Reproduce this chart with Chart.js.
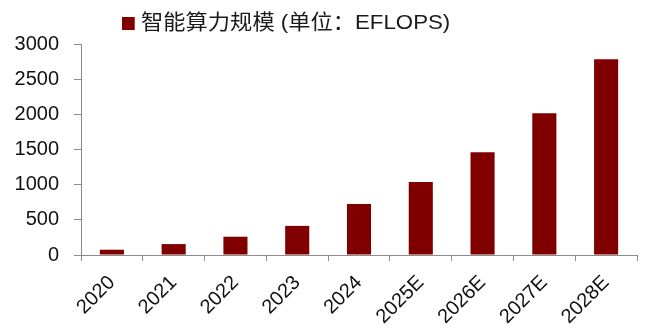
<!DOCTYPE html>
<html>
<head>
<meta charset="utf-8">
<script src="https://cdn.jsdelivr.net/npm/chart.js@4/dist/chart.umd.min.js"></script>
<style>
  html, body { margin: 0; padding: 0; background: #fff; }
  #wrap { position: relative; width: 645px; height: 333px; }
  #legend {
    position: absolute; left: 122px; top: 5px;
    font: 21px "Liberation Sans", "Noto Sans CJK SC", sans-serif;
    color: #1a1a1a; white-space: nowrap;
    transform: scaleX(1.06); transform-origin: left center;
  }
  #legend .box {
    display: inline-block; width: 12px; height: 13px;
    background: #800000; margin-right: 6px; vertical-align: -1px;
  }
</style>
</head>
<body>
<div id="wrap">
  <canvas id="chart" width="645" height="333"></canvas>
  <div id="legend"><span class="box"></span>智能算力规模 (单位：EFLOPS)</div>
</div>
<script>
// 中国智能算力规模，2025 年起为预测值
const years = ["2020", "2021", "2022", "2023", "2024", "2025E", "2026E", "2027E", "2028E"]
const computeScale = [75.0, 155.2, 259.9, 414.1, 725.3, 1037.3, 1460.3, 2017.0, 2781.9]
const yTicks = [0, 500, 1000, 1500, 2000, 2500, 3000]

const barColor = "#800000"
const axisColor = "#8c8c8c"
const labelFont = { family: "'Liberation Sans', Arial, sans-serif", size: 20 }

new Chart(document.getElementById("chart"), {
  type: "bar",
  data: {
    labels: years,
    datasets: [{
      label: "智能算力规模 (单位：EFLOPS)",
      data: computeScale,
      backgroundColor: barColor,
      categoryPercentage: 1,
      barPercentage: 0.39
    }]
  },
  options: {
    responsive: false,
    animation: false,
    layout: { padding: { top: 44, right: 8, left: 0, bottom: 0 } },
    plugins: { legend: { display: false }, tooltip: { enabled: false } },
    scales: {
      x: {
        grid: { drawOnChartArea: false, drawTicks: true, tickLength: 6, color: axisColor },
        border: { display: true, color: axisColor, width: 1 },
        ticks: { color: "#111", font: labelFont, minRotation: 45, maxRotation: 45, padding: 10 },
        afterFit: (scale) => { scale.height = 78 }
      },
      y: {
        min: 0,
        max: 3000,
        afterBuildTicks: (scale) => { scale.ticks = yTicks.map(v => ({ value: v })) },
        grid: { drawOnChartArea: false, drawTicks: true, tickLength: 7, color: axisColor },
        border: { display: true, color: axisColor, width: 1 },
        ticks: { color: "#111", font: labelFont, padding: 15, callback: (v) => String(v) },
        afterFit: (scale) => { scale.width = 81 }
      }
    }
  }
})
</script>
</body>
</html>
